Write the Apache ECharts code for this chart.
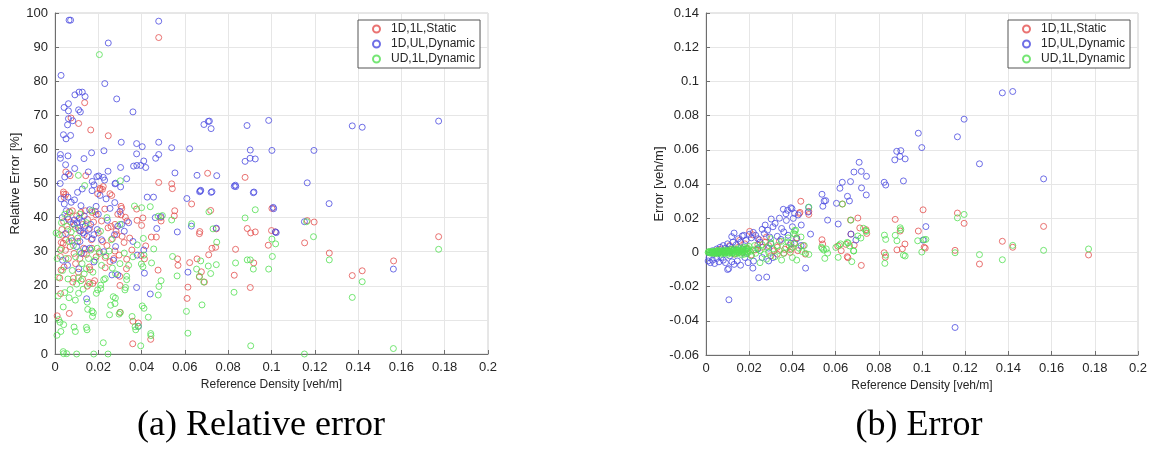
<!DOCTYPE html>
<html>
<head>
<meta charset="utf-8">
<script src="https://cdn.jsdelivr.net/npm/echarts@6/dist/echarts.min.js"></script>
<style>
  html, body { margin: 0; padding: 0; background: #fff; }
  #chart { width: 1155px; height: 450px; }
</style>
</head>
<body>
<div id="chart"></div>
<script>
// Series names shared by both panels
const seriesNames = ['1D,1L,Static', '1D,UL,Dynamic', 'UD,1L,Dynamic'];
const seriesColors = ['#e4504f', '#4b4be0', '#52e052'];

// Panel (a): reference density [veh/m] vs relative error [%]
const relErrStatic = [
  [0.0479,92.8],[0.0137,73.7],[0.0074,69.2],[0.0109,67.6],[0.0165,65.7],[0.0246,64.0],[0.0050,53.4],[0.0070,52.3],
  [0.0142,52.3],[0.0479,50.3],[0.0539,49.9],[0.0542,48.5],[0.0705,53.0],[0.0878,51.8],[0.0209,48.2],[0.0223,49.1],
  [0.0039,47.5],[0.0040,46.9],[0.0254,47.0],[0.0262,46.5],[0.0010,11.2],[0.0026,17.7],[0.0022,22.3],[0.0028,24.6],
  [0.0042,25.5],[0.0025,28.6],[0.0048,30.4],[0.0062,28.0],[0.0088,29.5],[0.0038,32.5],[0.0029,32.7],[0.0049,33.5],
  [0.0040,38.8],[0.0050,46.8],[0.0043,45.9],[0.0066,41.7],[0.0072,38.7],[0.0066,11.9],[0.0085,22.2],[0.0082,21.1],
  [0.0149,19.9],[0.0156,21.0],[0.0162,24.7],[0.0159,25.5],[0.0132,31.0],[0.0134,29.5],[0.0183,21.5],[0.0175,20.7],
  [0.0186,41.8],[0.0172,41.5],[0.0197,47.0],[0.0208,48.6],[0.0219,48.3],[0.0232,28.3],[0.0232,25.3],[0.0254,27.1],
  [0.0272,28.0],[0.0277,30.2],[0.0296,29.0],[0.0282,36.0],[0.0259,37.4],[0.0277,38.0],[0.0308,42.7],[0.0325,40.1],
  [0.0305,43.3],[0.0305,40.8],[0.0333,39.0],[0.0299,22.8],[0.0300,20.1],[0.0300,12.2],[0.0330,25.0],[0.0331,27.8],
  [0.0319,32.7],[0.0360,9.6],[0.0359,3.0],[0.0377,42.5],[0.0379,39.2],[0.0400,37.7],[0.0406,39.9],[0.0385,9.1],
  [0.0397,28.9],[0.0413,27.9],[0.0419,31.7],[0.0445,34.3],[0.0468,34.3],[0.0490,39.0],[0.0488,40.0],[0.0476,24.6],
  [0.0442,4.3],[0.0553,42.0],[0.0551,40.5],[0.0566,27.9],[0.0568,26.0],[0.0610,16.3],[0.0614,19.6],[0.0622,26.8],
  [0.0631,44.0],[0.0667,22.6],[0.0676,24.1],[0.0667,35.3],[0.0669,35.9],[0.0690,21.1],[0.0710,29.1],[0.0725,31.0],
  [0.0719,42.1],[0.0745,36.7],[0.0742,31.3],[0.0656,27.9],[0.0834,30.7],[0.0828,23.1],[0.0888,36.8],[0.0904,35.5],
  [0.0925,35.8],[0.0918,26.7],[0.0902,19.5],[0.0985,31.9],[0.1000,36.2],[0.1018,35.8],[0.1002,42.7],
  [0.1165,39.1],[0.1197,38.7],[0.1153,32.6],[0.1267,29.6],[0.1373,23.0],[0.1419,24.4],[0.1564,27.3],[0.1772,34.4],
  [0.0060,36.5],[0.0075,34.0],[0.0090,37.8],[0.0100,40.5],[0.0105,33.0],[0.0112,36.2],[0.0120,41.5],[0.0128,38.0],
  [0.0135,35.0],[0.0140,42.0],[0.0150,39.5],[0.0160,36.8],[0.0168,33.5],[0.0178,38.7],[0.0190,40.8],[0.0200,35.5],
  [0.0215,39.0],[0.0230,42.5],[0.0245,37.0],[0.0265,33.8],[0.0285,35.0],[0.0310,34.5],[0.0095,26.5],[0.0115,28.0],
  [0.0145,29.2],[0.0170,31.0],[0.0205,30.0],[0.0220,33.0],[0.0080,42.0],[0.0058,40.2],[0.0035,34.8],[0.0030,31.0],
  [0.0032,36.5],[0.0070,31.5],[0.0108,24.0],[0.0127,22.0],[0.0190,28.5],[0.0240,31.8],[0.0290,41.0],[0.0345,34.0],
  [0.0355,30.5]
];

const relErrUL = [
  [0.0065,97.9],[0.0072,97.9],[0.0479,97.6],[0.0246,91.2],[0.0028,81.7],[0.0230,79.3],[0.0285,74.8],[0.0092,76.0],
  [0.0111,76.8],[0.0126,76.8],[0.0139,75.5],[0.0062,73.4],[0.0042,72.3],[0.0062,71.3],[0.0109,71.6],[0.0117,71.0],
  [0.0360,71.0],[0.0062,69.0],[0.0082,68.4],[0.0058,67.2],[0.0039,64.3],[0.0072,64.1],[0.0051,63.1],[0.0025,58.5],
  [0.0025,57.4],[0.0060,58.1],[0.0169,59.0],[0.0226,59.6],[0.0306,62.1],[0.0377,61.7],[0.0377,58.7],[0.0403,60.8],
  [0.0479,62.1],[0.0479,58.5],[0.0539,60.5],[0.0622,60.2],[0.0688,67.3],[0.0708,68.2],[0.0713,68.3],[0.0721,66.1],
  [0.0887,67.0],[0.0987,68.5],[0.0902,59.8],[0.0901,57.4],[0.0925,57.2],[0.0878,56.5],[0.1002,59.7],[0.0916,47.3],
  [0.0828,49.2],[0.0835,49.1],[0.0673,48.0],[0.0668,47.6],[0.0721,47.4],[0.0747,52.3],[0.0656,52.4],[0.0554,53.1],
  [0.0363,55.1],[0.0378,55.3],[0.0396,55.3],[0.0419,54.7],[0.0410,56.6],[0.0303,54.7],[0.0331,51.4],[0.0245,53.6],
  [0.0277,49.9],[0.0280,50.1],[0.0303,49.0],[0.0193,52.0],[0.0202,52.2],[0.0223,51.8],[0.0229,51.0],[0.0172,50.6],
  [0.0180,49.6],[0.0171,47.9],[0.0154,53.4],[0.0134,57.3],[0.0091,54.4],[0.0049,55.5],[0.0045,51.9],[0.0063,52.8],
  [0.0024,50.0],[0.0104,47.4],[0.0126,48.4],[0.0609,45.6],[0.0426,46.0],[0.0455,46.0],[0.0465,57.4],
  [0.1373,66.9],[0.1419,66.5],[0.1772,68.3],[0.1196,59.7],[0.1165,50.2],[0.1266,44.1],[0.1152,38.8],[0.1563,24.9],
  [0.0043,44.0],[0.0052,42.0],[0.0033,40.0],[0.0062,39.5],[0.0049,35.3],[0.0085,38.2],[0.0090,39.3],[0.0102,38.5],
  [0.0108,37.0],[0.0112,39.8],[0.0118,36.0],[0.0124,38.8],[0.0130,35.5],[0.0135,40.5],[0.0140,37.5],[0.0148,34.5],
  [0.0155,36.5],[0.0165,38.0],[0.0172,33.8],[0.0180,35.0],[0.0115,33.0],[0.0100,31.5],[0.0122,29.5],[0.0140,30.8],
  [0.0160,31.0],[0.0079,33.2],[0.0208,46.5],[0.0236,45.5],[0.0276,44.4],[0.0254,42.7],[0.0242,39.2],[0.0300,41.8],
  [0.0308,38.0],[0.0263,23.2],[0.0290,23.2],[0.0377,19.5],[0.0440,17.6],[0.0413,23.7],[0.0463,40.0],[0.0490,40.3],
  [0.0565,35.8],[0.0630,37.5],[0.0614,24.0],[0.0671,47.8],[0.0725,47.6],[0.0745,36.9],[0.0833,49.5],[0.0919,47.5],
  [0.1008,43.0],[0.1010,42.6],[0.1018,35.8],[0.1022,35.6],[0.0385,8.1],[0.0146,16.2],[0.0190,43.3],[0.0200,41.0],
  [0.0275,35.0],[0.0290,37.5],[0.0320,36.0],[0.0340,38.5],[0.0380,29.0],[0.0360,33.0],[0.0410,30.5],[0.0270,27.5],
  [0.0280,31.5],[0.0215,33.5],[0.0225,30.0],[0.0195,36.5],[0.0060,46.0],[0.0075,44.5],[0.0090,45.2],[0.0028,45.5],
  [0.0470,36.8],[0.0120,43.5],[0.0160,42.3],[0.0058,26.0],[0.0110,25.0],[0.0035,27.5],[0.0180,27.0]
];

const relErrUD = [
  [0.0205,87.8],[0.0108,52.4],[0.0137,49.4],[0.0302,50.8],[0.0009,5.5],[0.0027,6.6],[0.0040,0.1],[0.0054,0.1],
  [0.0038,0.7],[0.0100,0.0],[0.0179,0.0],[0.0245,0.0],[0.0223,3.3],[0.0088,7.9],[0.0094,6.6],[0.0040,8.6],
  [0.0023,9.3],[0.0017,10.1],[0.0038,13.8],[0.0094,15.8],[0.0109,17.8],[0.0065,16.5],[0.0070,18.9],[0.0108,22.3],
  [0.0148,7.1],[0.0145,7.8],[0.0151,13.1],[0.0149,15.2],[0.0171,12.6],[0.0173,11.0],[0.0177,12.1],[0.0191,17.8],
  [0.0197,18.8],[0.0211,19.2],[0.0211,20.2],[0.0225,21.8],[0.0232,22.1],[0.0252,11.5],[0.0257,14.3],[0.0277,14.8],
  [0.0269,16.8],[0.0279,16.4],[0.0302,12.2],[0.0296,11.7],[0.0323,18.8],[0.0326,19.5],[0.0331,22.8],[0.0331,21.8],
  [0.0356,11.0],[0.0370,8.0],[0.0373,7.1],[0.0385,8.1],[0.0396,2.4],[0.0403,14.1],[0.0411,13.4],[0.0431,10.8],
  [0.0442,6.0],[0.0443,5.4],[0.0477,17.3],[0.0480,19.8],[0.0490,21.5],[0.0406,25.6],[0.0399,26.4],[0.0411,29.0],
  [0.0446,26.7],[0.0456,30.8],[0.0477,40.4],[0.0496,40.6],[0.0367,43.4],[0.0400,42.9],[0.0440,43.2],[0.0408,33.9],
  [0.0539,39.3],[0.0543,28.6],[0.0564,22.9],[0.0607,12.5],[0.0614,6.1],[0.0631,38.2],[0.0654,24.9],[0.0673,27.3],
  [0.0667,22.8],[0.0679,14.4],[0.0708,25.8],[0.0719,23.6],[0.0711,41.7],[0.0730,36.7],[0.0747,32.8],[0.0745,26.2],
  [0.0687,21.1],[0.0827,18.1],[0.0834,26.7],[0.0878,39.9],[0.0888,27.6],[0.0902,27.6],[0.0916,24.9],[0.0925,42.3],
  [0.0904,2.4],[0.0987,24.9],[0.1002,33.7],[0.1004,28.6],[0.1019,32.3],
  [0.1162,38.8],[0.1194,34.4],[0.1267,27.6],[0.1419,21.2],[0.1373,16.6],[0.1563,1.6],[0.1152,0.0],[0.1772,30.7],
  [0.0005,35.5],[0.0020,35.0],[0.0030,38.5],[0.0045,41.0],[0.0055,37.5],[0.0065,33.0],[0.0075,35.8],[0.0085,31.8],
  [0.0095,28.5],[0.0105,34.0],[0.0115,30.0],[0.0125,26.5],[0.0135,23.5],[0.0145,25.0],[0.0155,28.0],[0.0165,30.5],
  [0.0175,24.0],[0.0185,27.5],[0.0195,31.0],[0.0205,29.5],[0.0215,26.0],[0.0235,28.8],[0.0250,30.2],[0.0265,25.2],
  [0.0280,23.5],[0.0300,26.5],[0.0320,29.6],[0.0340,26.0],[0.0360,28.5],[0.0380,32.0],[0.0260,33.5],[0.0050,28.0],
  [0.0035,24.5],[0.0060,22.0],[0.0080,24.5],[0.0100,20.5],[0.0120,21.5],[0.0130,19.0],[0.0160,20.5],[0.0010,28.0],
  [0.0025,30.5],[0.0045,18.0],[0.0015,22.5],[0.0015,17.0],[0.0070,41.5],[0.0115,41.0],[0.0170,42.0],[0.0240,40.0],
  [0.0145,38.5],[0.0095,36.8],[0.0210,36.0],[0.0300,38.0]
];

// Panel (b): reference density [veh/m] vs error [veh/m]
const errStatic = [
  [0.0439,0.0299],[0.0435,0.0234],[0.0432,0.0228],[0.0476,0.0240],[0.0476,0.0222],[0.0537,0.0074],[0.0540,0.0049],
  [0.0610,0.0037],[0.0626,0.0010],[0.0631,0.0283],[0.0648,0.0047],[0.0657,-0.0031],[0.0669,0.0189],[0.0703,0.0201],
  [0.0712,0.0143],[0.0741,0.0133],[0.0744,0.0111],[0.0686,0.0043],[0.0719,-0.0076],[0.0654,-0.0025],[0.0671,0.0107],
  [0.0876,0.0193],[0.0899,0.0125],[0.0921,0.0049],[0.0884,0.0015],[0.0909,0.0021],[0.0825,-0.0002],[0.0830,-0.0028],
  [0.1005,0.0249],[0.0983,0.0125],[0.1015,0.0025],[0.1010,0.0030],[0.1164,0.0230],[0.1195,0.0170],[0.1153,0.0012],
  [0.1266,-0.0068],[0.1372,0.0065],[0.1420,0.0030],[0.1563,0.0152],[0.1771,-0.0015],
  [0.0202,0.0123],[0.0216,0.0103],[0.0247,0.0074],[0.0290,0.0040],[0.0316,0.0010],[0.0365,0.0018],[0.0385,0.0040],
  [0.0410,0.0055],[0.0300,-0.0020],[0.0260,0.0030],[0.0230,0.0015],[0.0180,0.0050],[0.0150,0.0030],[0.0120,0.0020],
  [0.0100,0.0010],[0.0080,0.0005],[0.0060,0.0000],[0.0040,-0.0005],[0.0130,-0.0010],[0.0170,0.0000],[0.0210,-0.0015],
  [0.0275,0.0060],[0.0340,0.0065],[0.0360,-0.0005],[0.0395,0.0020],[0.0425,0.0010],[0.0450,0.0040],[0.0460,-0.0010],
  [0.0330,0.0030],[0.0280,0.0090],[0.0240,0.0045],[0.0190,0.0020],[0.0155,0.0070],[0.0110,0.0040],[0.0070,0.0020],
  [0.0050,0.0010],[0.0420,0.0085],[0.0390,0.0000],[0.0330,-0.0010]
];

const errUL = [
  [0.0983,0.0697],[0.0999,0.0613],[0.0883,0.0591],[0.0902,0.0595],[0.0898,0.0561],[0.0922,0.0547],[0.0874,0.0541],
  [0.0914,0.0418],[0.0825,0.0410],[0.0832,0.0394],[0.0709,0.0527],[0.0685,0.0470],[0.0719,0.0474],[0.0743,0.0445],
  [0.0631,0.0410],[0.0669,0.0414],[0.0620,0.0375],[0.0720,0.0377],[0.0742,0.0336],[0.0537,0.0340],[0.0554,0.0303],
  [0.0541,0.0270],[0.0604,0.0287],[0.0655,0.0328],[0.0664,0.0301],[0.0563,0.0189],[0.0612,0.0166],[0.0671,0.0107],
  [0.0694,0.0072],[0.1005,0.0072],[0.1018,0.0151],[0.1372,0.0933],[0.1420,0.0941],[0.1195,0.0779],[0.1164,0.0676],
  [0.1266,0.0518],[0.1563,0.0430],[0.1153,-0.0439],
  [0.0106,-0.0277],[0.0244,-0.0148],[0.0281,-0.0144],[0.0461,-0.0092],[0.0217,-0.0092],[0.0220,-0.0051],[0.0119,0.0092],
  [0.0130,0.0113],[0.0168,0.0096],[0.0302,0.0195],[0.0274,0.0160],[0.0260,0.0135],[0.0219,0.0117],[0.0240,0.0080],
  [0.0358,0.0252],[0.0370,0.0226],[0.0378,0.0246],[0.0398,0.0256],[0.0410,0.0228],[0.0372,0.0187],[0.0441,0.0160],
  [0.0427,0.0219],[0.0393,0.0261],[0.0404,0.0199],[0.0330,0.0094],[0.0347,0.0076],[0.0393,0.0053],[0.0475,0.0263],
  [0.0473,0.0236],[0.0484,0.0107],[0.0547,0.0300],
  [0.0010,-0.0050],[0.0020,-0.0060],[0.0030,-0.0045],[0.0040,-0.0065],[0.0050,-0.0035],[0.0060,-0.0055],[0.0015,-0.0030],
  [0.0070,-0.0030],[0.0080,-0.0045],[0.0090,-0.0060],[0.0100,-0.0100],[0.0105,-0.0095],[0.0120,-0.0055],[0.0130,-0.0070],
  [0.0145,-0.0050],[0.0160,-0.0075],[0.0180,-0.0030],[0.0195,-0.0060],[0.0030,0.0010],[0.0050,0.0020],[0.0065,0.0030],
  [0.0080,0.0040],[0.0090,0.0025],[0.0100,0.0050],[0.0110,0.0035],[0.0125,0.0060],[0.0140,0.0045],[0.0150,0.0080],
  [0.0160,0.0060],[0.0175,0.0100],[0.0185,0.0070],[0.0200,0.0105],[0.0210,0.0085],[0.0230,0.0100],[0.0250,0.0060],
  [0.0270,0.0110],[0.0285,0.0130],[0.0295,0.0090],[0.0310,0.0150],[0.0320,0.0170],[0.0340,0.0200],[0.0350,0.0140],
  [0.0360,0.0120],[0.0380,0.0100],[0.0300,0.0050],[0.0240,0.0020],[0.0260,-0.0030],[0.0290,-0.0050],[0.0310,-0.0030],
  [0.0060,0.0000],[0.0110,-0.0020],[0.0170,0.0020],[0.0400,0.0150],[0.0420,0.0080],[0.0440,0.0040],[0.0290,0.0025]
];

const errUD = [
  [0.0010,0.0000],[0.0015,0.0005],[0.0020,-0.0004],[0.0025,0.0002],[0.0030,-0.0006],[0.0035,0.0008],[0.0040,0.0000],
  [0.0045,-0.0008],[0.0050,0.0006],[0.0055,0.0012],[0.0060,-0.0004],[0.0065,0.0003],[0.0070,-0.0010],[0.0075,0.0010],
  [0.0080,0.0002],[0.0085,-0.0006],[0.0090,0.0015],[0.0095,0.0005],[0.0100,-0.0012],[0.0105,0.0008],[0.0110,0.0000],
  [0.0115,0.0018],[0.0120,-0.0005],[0.0125,0.0010],[0.0130,0.0022],[0.0135,-0.0010],[0.0140,0.0004],[0.0145,0.0016],
  [0.0150,-0.0002],[0.0155,0.0025],[0.0160,0.0008],[0.0165,-0.0015],[0.0170,0.0012],[0.0175,0.0030],[0.0180,0.0000],
  [0.0185,0.0018],[0.0190,-0.0008],[0.0195,0.0022],[0.0200,0.0035],[0.0205,0.0006],[0.0210,-0.0020],[0.0220,0.0015],
  [0.0225,0.0040],[0.0230,-0.0005],[0.0240,0.0025],[0.0250,0.0010],[0.0260,0.0045],[0.0270,-0.0010],[0.0280,0.0030],
  [0.0290,0.0000],[0.0300,0.0055],[0.0310,0.0020],[0.0320,-0.0025],[0.0330,0.0040],[0.0340,0.0010],[0.0350,0.0065],
  [0.0360,-0.0005],[0.0370,0.0030],[0.0380,0.0085],[0.0390,0.0015],[0.0400,-0.0030],[0.0405,0.0110],[0.0410,0.0050],
  [0.0415,0.0130],[0.0420,-0.0045],[0.0430,0.0025],[0.0445,0.0005],[0.0455,0.0040],
  [0.0012,0.0003],[0.0018,-0.0002],[0.0022,0.0004],[0.0028,0.0000],[0.0033,0.0003],[0.0038,-0.0003],[0.0042,0.0005],
  [0.0048,0.0001],[0.0052,-0.0003],[0.0058,0.0007],[0.0062,0.0001],[0.0068,0.0006],[0.0072,-0.0004],[0.0078,0.0000],
  [0.0082,0.0009],[0.0088,-0.0001],[0.0092,0.0004],[0.0098,0.0000],[0.0102,0.0011],[0.0108,-0.0004],[0.0112,0.0006],
  [0.0118,0.0002],[0.0122,0.0013],[0.0128,-0.0002],[0.0132,0.0007],[0.0138,0.0015],[0.0142,-0.0006],[0.0148,0.0009],
  [0.0152,0.0002],[0.0158,0.0014],[0.0162,-0.0004],[0.0168,0.0020],[0.0172,0.0005],[0.0178,-0.0010],[0.0182,0.0010],
  [0.0188,0.0026],[0.0192,0.0003],[0.0198,0.0012],
  [0.0476,0.0265],[0.0476,-0.0012],[0.0535,0.0030],[0.0550,-0.0035],[0.0545,0.0014],[0.0538,0.0023],[0.0557,0.0020],
  [0.0563,-0.0004],[0.0601,0.0029],[0.0612,-0.0029],[0.0617,0.0042],[0.0623,0.0050],[0.0632,0.0283],[0.0658,0.0055],
  [0.0654,0.0058],[0.0665,0.0038],[0.0683,0.0009],[0.0675,-0.0054],[0.0671,0.0189],[0.0684,0.0008],[0.0729,0.0141],
  [0.0740,0.0127],[0.0717,0.0084],[0.0703,0.0096],[0.0742,0.0123],[0.0826,0.0101],[0.0832,0.0076],[0.0828,-0.0064],
  [0.0832,-0.0016],[0.0876,0.0100],[0.0884,0.0068],[0.0899,0.0144],[0.0902,0.0133],[0.0914,-0.0016],[0.0922,-0.0021],
  [0.0980,0.0068],[0.0999,0.0002],[0.1018,0.0076],[0.1010,0.0074],[0.1164,0.0202],[0.1195,0.0222],[0.1153,-0.0002],
  [0.1266,-0.0013],[0.1372,-0.0043],[0.1420,0.0041],[0.1563,0.0012],[0.1771,0.0020],
  [0.0300,0.0080],[0.0280,-0.0040],[0.0250,-0.0060],[0.0350,-0.0045],[0.0380,0.0060],[0.0440,0.0090],[0.0460,-0.0005],
  [0.0400,0.0030],[0.0410,0.0127],[0.0412,0.0107]
];

const panelA = [relErrStatic, relErrUL, relErrUD];
const panelB = [errStatic, errUL, errUD];

const FONT = '"Liberation Sans", Arial, Helvetica, sans-serif';
const TXT = '#262626';
const fmt = v => String(Math.round(v * 100) / 100);

function xAxisCfg(gridIndex) {
  return {
    type: 'value', gridIndex, min: 0, max: 0.2, interval: 0.02,
    name: 'Reference Density [veh/m]', nameLocation: 'middle', nameGap: 23,
    nameTextStyle: { fontFamily: FONT, fontSize: 12, color: TXT },
    axisLine: { show: true, onZero: false, lineStyle: { color: '#6e6e6e', width: 1 } },
    axisTick: { show: true, inside: true, length: 4, lineStyle: { color: '#6e6e6e' } },
    axisLabel: { fontFamily: FONT, fontSize: 13, color: TXT, margin: 7, formatter: fmt },
    splitLine: { show: true, lineStyle: { color: '#e6e6e6', width: 1 } }
  };
}

function yAxisCfg(gridIndex, name, min, max, interval, gap) {
  return {
    type: 'value', gridIndex, min, max, interval,
    name, nameLocation: 'middle', nameGap: gap,
    nameTextStyle: { fontFamily: FONT, fontSize: 13, color: TXT },
    axisLine: { show: true, onZero: false, lineStyle: { color: '#6e6e6e', width: 1 } },
    axisTick: { show: true, inside: true, length: 4, lineStyle: { color: '#6e6e6e' } },
    axisLabel: { fontFamily: FONT, fontSize: 13, color: TXT, margin: 7, formatter: fmt },
    splitLine: { show: true, lineStyle: { color: '#e6e6e6', width: 1 } }
  };
}

function legendCfg(left) {
  return {
    data: seriesNames, orient: 'vertical', left, top: 20,
    itemWidth: 7, itemHeight: 7, itemGap: 3, align: 'left',
    padding: [3, 5, 3, 14],
    backgroundColor: '#fff', borderColor: '#555', borderWidth: 1,
    textStyle: { fontFamily: FONT, fontSize: 12, color: TXT, padding: [0, 0, 0, 6] },
    selectedMode: false
  };
}

const series = [];
[panelA, panelB].forEach((panel, g) => {
  panel.forEach((pts, i) => {
    series.push({
      name: seriesNames[i], type: 'scatter', xAxisIndex: g, yAxisIndex: g,
      data: pts, symbol: 'circle', symbolSize: 6,
      itemStyle: { color: 'rgba(255,255,255,0)', borderColor: seriesColors[i], borderWidth: 1 },
      emphasis: { disabled: true }, silent: true
    });
  });
});

const CAPTION_FONT = '36px "Liberation Serif", "Times New Roman", serif';

const chart = echarts.init(document.getElementById('chart'), null, { renderer: 'canvas' });
chart.setOption({
  animation: false,
  backgroundColor: '#fff',
  grid: [
    { left: 55, top: 13, width: 433, height: 341, show: true, borderColor: '#cfcfcf', borderWidth: 1, backgroundColor: 'transparent' },
    { left: 706, top: 13, width: 432, height: 342, show: true, borderColor: '#cfcfcf', borderWidth: 1, backgroundColor: 'transparent' }
  ],
  xAxis: [xAxisCfg(0), xAxisCfg(1)],
  yAxis: [
    yAxisCfg(0, 'Relative Error [%]', 0, 100, 10, 30),
    yAxisCfg(1, 'Error [veh/m]', -0.06, 0.14, 0.02, 39)
  ],
  legend: [legendCfg(358), legendCfg(1008)],
  series,
  graphic: [
    { type: 'text', x: 261, y: 426, style: { text: '(a) Relative error', font: CAPTION_FONT, fill: '#000', textAlign: 'center', textVerticalAlign: 'middle' } },
    { type: 'text', x: 919, y: 426, style: { text: '(b) Error', font: CAPTION_FONT, fill: '#000', textAlign: 'center', textVerticalAlign: 'middle' } }
  ]
});
</script>
</body>
</html>
